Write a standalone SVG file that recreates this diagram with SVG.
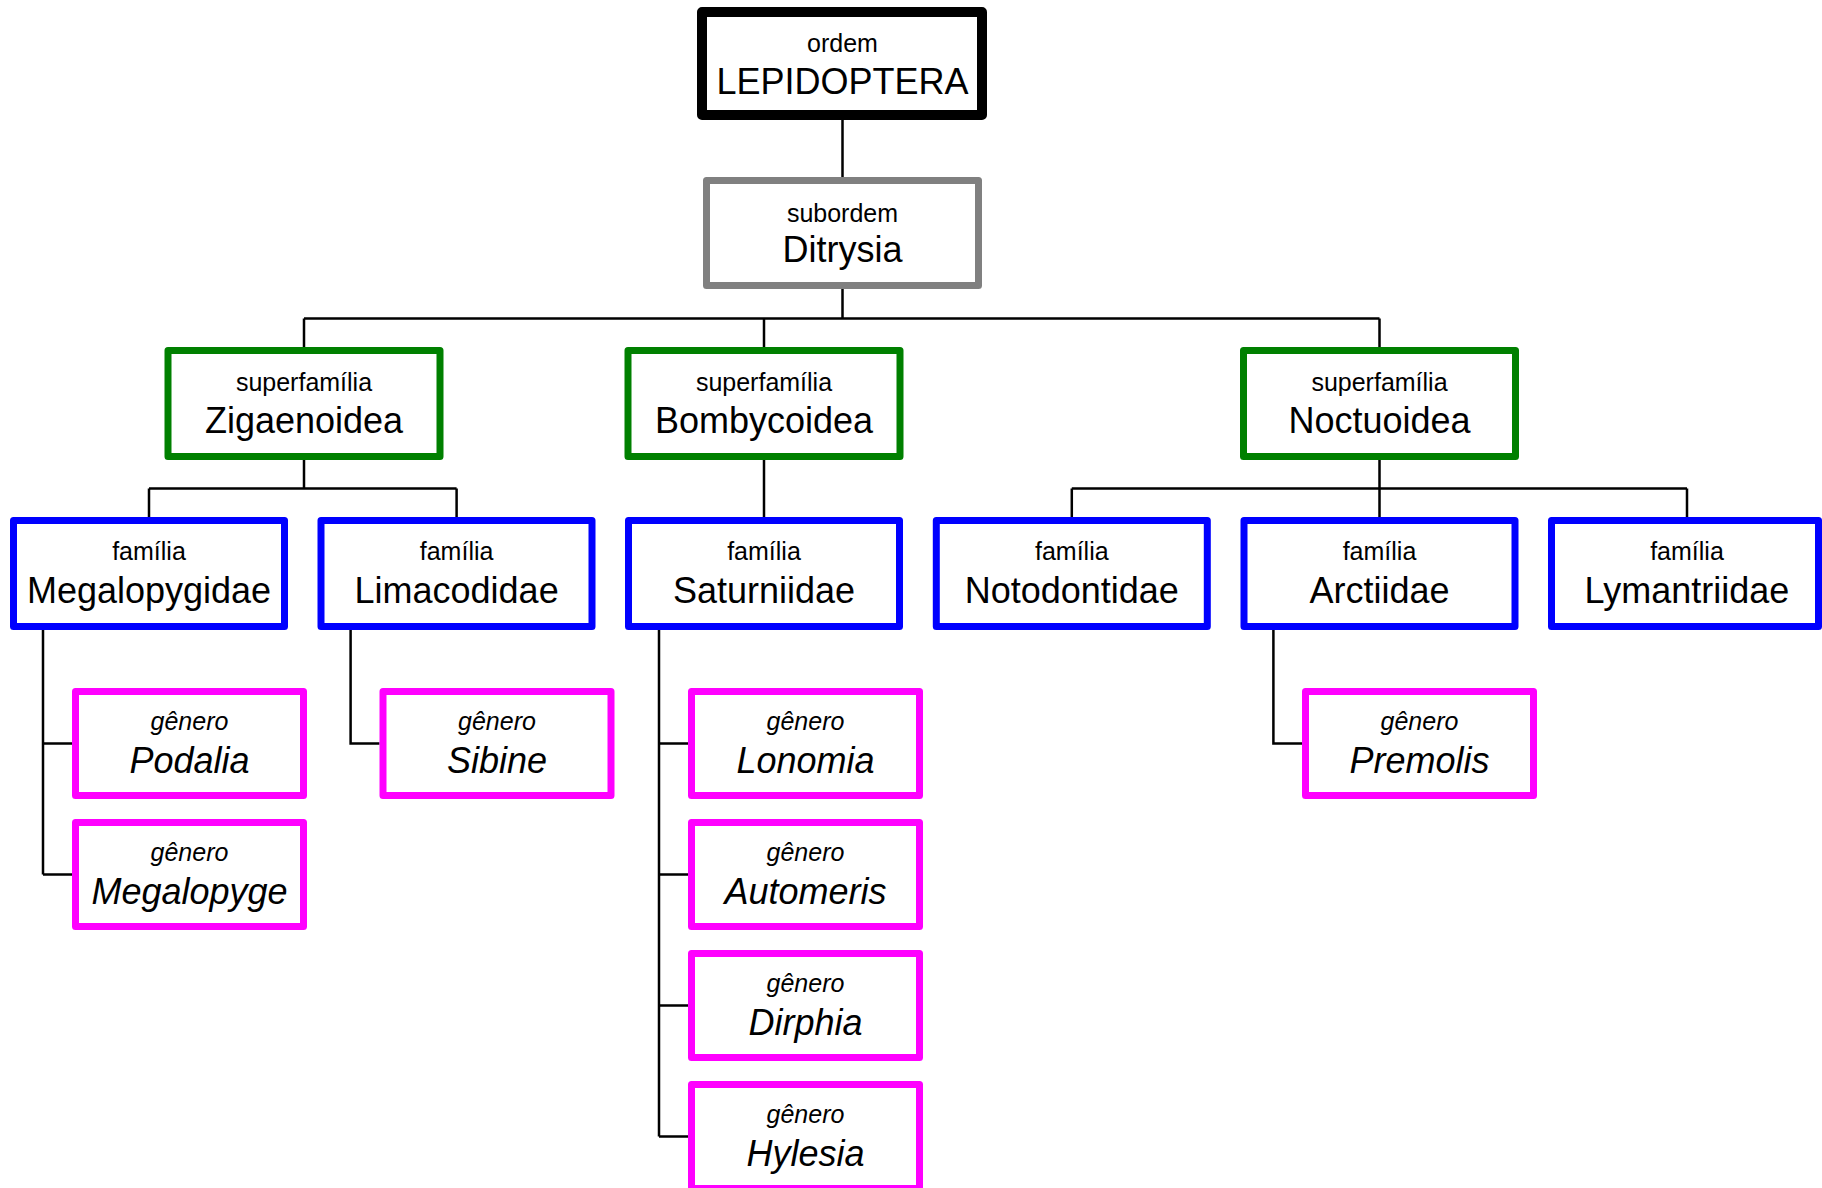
<svg xmlns="http://www.w3.org/2000/svg" width="1822" height="1188" viewBox="0 0 1822 1188">
<style>
.box{fill:#fff;stroke-linejoin:round}
.ord{stroke:#000;stroke-width:10}
.sub{stroke:#808080;stroke-width:7}
.sup{stroke:#008000;stroke-width:7}
.fam{stroke:#0000ff;stroke-width:7}
.gen{stroke:#ff00ff;stroke-width:7}
text{font-family:"Liberation Sans",Arial,sans-serif;text-anchor:middle;fill:#000}
.s{font-size:25px}
.m{font-size:36px}
.i{font-style:italic}
#connectors path{fill:none;stroke:#000;stroke-width:2.5}
</style>
<rect width="1822" height="1188" fill="#fff"/>
<g id="connectors">
<path d="M842.5,120V177M842.5,289V318.5M304,318.5H1379.5M304,318.5V347M764,318.5V347M1379.5,318.5V347"/>
<path d="M304,460V488.5M149,488.5H456.6M149,488.5V517M456.6,488.5V517"/>
<path d="M764,460V517"/>
<path d="M1379.5,460V517M1071.8,488.5H1687M1071.8,488.5V517M1687,488.5V517"/>
<path d="M43,630V874.5M43,743.5H72M43,874.5H72"/>
<path d="M350.6,630V743.5H379.5"/>
<path d="M659,630V1136.5M659,743.5H688M659,874.5H688M659,1005.5H688M659,1136.5H688"/>
<path d="M1273.4,630V743.5H1302"/>
</g>
<g id="n-lepidoptera"><rect class="box ord" x="702" y="12" width="280" height="103"/><text class="s" x="842.5" y="52">ordem</text><text class="m" x="842.5" y="94">LEPIDOPTERA</text></g>
<g id="n-ditrysia"><rect class="box sub" x="706.5" y="180.5" width="272" height="105"/><text class="s" x="842.5" y="222">subordem</text><text class="m" x="842.5" y="262">Ditrysia</text></g>
<g id="n-zigaenoidea"><rect class="box sup" x="168" y="350.5" width="272" height="106"/><text class="s" x="304" y="391">superfamília</text><text class="m" x="304" y="432.5">Zigaenoidea</text></g>
<g id="n-bombycoidea"><rect class="box sup" x="628" y="350.5" width="272" height="106"/><text class="s" x="764" y="391">superfamília</text><text class="m" x="764" y="432.5">Bombycoidea</text></g>
<g id="n-noctuoidea"><rect class="box sup" x="1243.5" y="350.5" width="272" height="106"/><text class="s" x="1379.5" y="391">superfamília</text><text class="m" x="1379.5" y="432.5">Noctuoidea</text></g>
<g id="n-megalopygidae"><rect class="box fam" x="13.5" y="520.5" width="271" height="106"/><text class="s" x="149" y="560">família</text><text class="m" x="149" y="602.5">Megalopygidae</text></g>
<g id="n-limacodidae"><rect class="box fam" x="321" y="520.5" width="271" height="106"/><text class="s" x="456.6" y="560">família</text><text class="m" x="456.6" y="602.5">Limacodidae</text></g>
<g id="n-saturniidae"><rect class="box fam" x="628.5" y="520.5" width="271" height="106"/><text class="s" x="764" y="560">família</text><text class="m" x="764" y="602.5">Saturniidae</text></g>
<g id="n-notodontidae"><rect class="box fam" x="936.3" y="520.5" width="271" height="106"/><text class="s" x="1071.8" y="560">família</text><text class="m" x="1071.8" y="602.5">Notodontidae</text></g>
<g id="n-arctiidae"><rect class="box fam" x="1244" y="520.5" width="271" height="106"/><text class="s" x="1379.5" y="560">família</text><text class="m" x="1379.5" y="602.5">Arctiidae</text></g>
<g id="n-lymantriidae"><rect class="box fam" x="1551.5" y="520.5" width="267" height="106"/><text class="s" x="1687" y="560">família</text><text class="m" x="1687" y="602.5">Lymantriidae</text></g>
<g id="n-podalia"><rect class="box gen" x="75.5" y="691.5" width="228" height="104"/><text class="s i" x="189.5" y="729.5">gênero</text><text class="m i" x="189.5" y="772.5">Podalia</text></g>
<g id="n-megalopyge"><rect class="box gen" x="75.5" y="822.5" width="228" height="104"/><text class="s i" x="189.5" y="860.5">gênero</text><text class="m i" x="189.5" y="903.5">Megalopyge</text></g>
<g id="n-sibine"><rect class="box gen" x="383" y="691.5" width="228" height="104"/><text class="s i" x="497" y="729.5">gênero</text><text class="m i" x="497" y="772.5">Sibine</text></g>
<g id="n-lonomia"><rect class="box gen" x="691.5" y="691.5" width="228" height="104"/><text class="s i" x="805.5" y="729.5">gênero</text><text class="m i" x="805.5" y="772.5">Lonomia</text></g>
<g id="n-automeris"><rect class="box gen" x="691.5" y="822.5" width="228" height="104"/><text class="s i" x="805.5" y="860.5">gênero</text><text class="m i" x="805.5" y="903.5">Automeris</text></g>
<g id="n-dirphia"><rect class="box gen" x="691.5" y="953.5" width="228" height="104"/><text class="s i" x="805.5" y="991.5">gênero</text><text class="m i" x="805.5" y="1034.5">Dirphia</text></g>
<g id="n-hylesia"><rect class="box gen" x="691.5" y="1084.5" width="228" height="104"/><text class="s i" x="805.5" y="1122.5">gênero</text><text class="m i" x="805.5" y="1165.5">Hylesia</text></g>
<g id="n-premolis"><rect class="box gen" x="1305.5" y="691.5" width="228" height="104"/><text class="s i" x="1419.5" y="729.5">gênero</text><text class="m i" x="1419.5" y="772.5">Premolis</text></g>
</svg>
